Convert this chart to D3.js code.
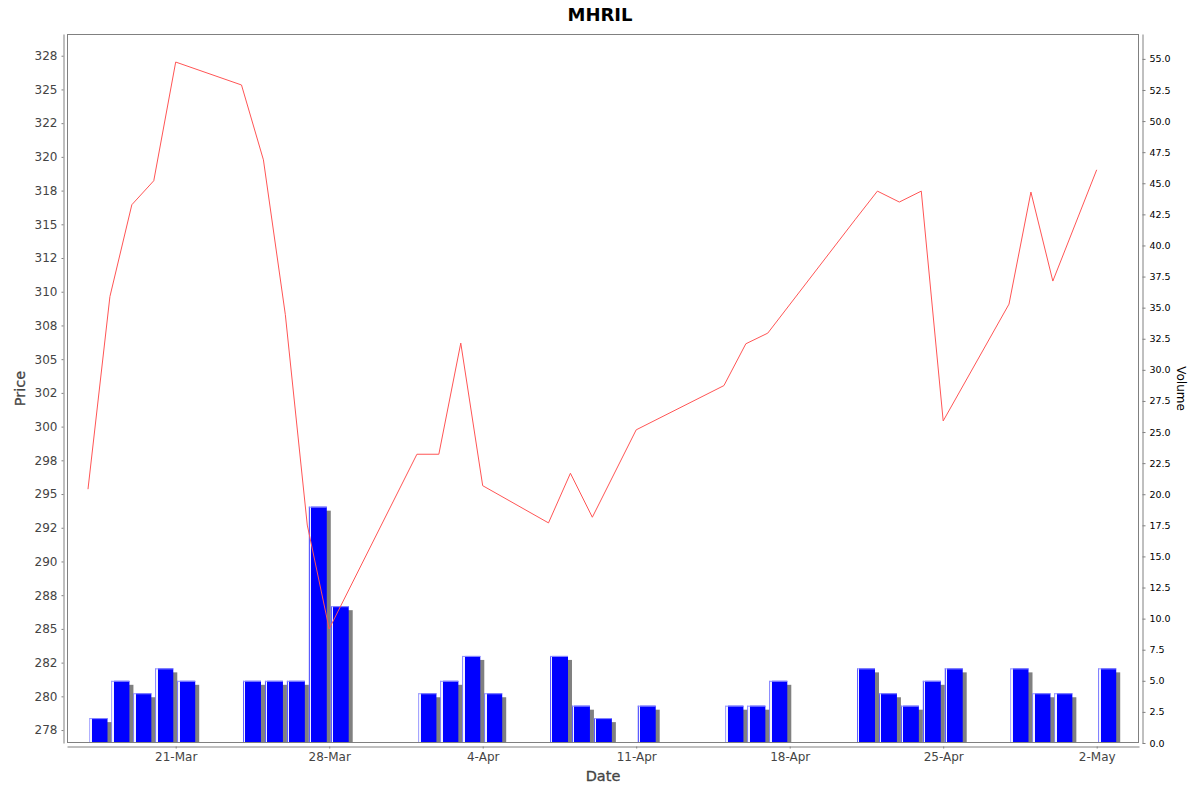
<!DOCTYPE html>
<html>
<head>
<meta charset="utf-8">
<script src="https://cdn.jsdelivr.net/npm/d3@7"></script>
<style>
  body { margin: 0; background: #fff; }
  text { font-family: "DejaVu Sans", sans-serif; }
</style>
</head>
<body>
<div id="chart"></div>
<script>
// trading days shown on the chart (2025)
var dates = ["2025-03-17", "2025-03-18", "2025-03-19", "2025-03-20", "2025-03-21",
             "2025-03-24", "2025-03-25", "2025-03-26", "2025-03-27", "2025-03-28",
             "2025-04-01", "2025-04-02", "2025-04-03", "2025-04-04",
             "2025-04-07", "2025-04-08", "2025-04-09", "2025-04-11",
             "2025-04-15", "2025-04-16", "2025-04-17",
             "2025-04-21", "2025-04-22", "2025-04-23", "2025-04-24", "2025-04-25",
             "2025-04-28", "2025-04-29", "2025-04-30", "2025-05-02"];

// closing price
var prices = [295.36, 309.64, 316.45, 318.23, 327.03,
              325.33, 319.78, 308.3, 292.7, 285.0,
              297.95, 297.95, 306.19, 295.62,
              292.86, 296.54, 293.28, 299.76,
              303.04, 306.14, 306.93,
              315.38, 317.46, 316.65, 317.46, 300.42,
              309.08, 317.39, 310.79, 319.04];

// volume
var volumes = [2, 5, 4, 6, 5,
               5, 5, 5, 19, 11,
               4, 5, 7, 4,
               7, 3, 2, 3,
               3, 3, 5,
               6, 4, 3, 5, 6,
               6, 4, 4, 6];

var priceTicks = [277.5, 280, 282.5, 285, 287.5, 290, 292.5, 295, 297.5, 300, 302.5,
                  305, 307.5, 310, 312.5, 315, 317.5, 320, 322.5, 325, 327.5];
var priceTickLabels = ["278", "280", "282", "285", "288", "290", "292", "295", "298", "300", "302",
                       "305", "308", "310", "312", "315", "318", "320", "322", "325", "328"];
var volumeTicks = [0, 2.5, 5, 7.5, 10, 12.5, 15, 17.5, 20, 22.5, 25, 27.5,
                   30, 32.5, 35, 37.5, 40, 42.5, 45, 47.5, 50, 52.5, 55];
var dateTicks = ["2025-03-21", "2025-03-28", "2025-04-04", "2025-04-11",
                 "2025-04-18", "2025-04-25", "2025-05-02"];

var W = 1200, H = 792;
var plot = { left: 67, right: 1139, top: 34, bottom: 743 };
var parse = d3.utcParse("%Y-%m-%d");
var DAY = 864e5;

var data = dates.map(function(d, i) {
    return { date: parse(d), price: prices[i], volume: volumes[i] };
});

var svg = d3.select("#chart").append("svg")
    .attr("width", W)
    .attr("height", H);

var defs = svg.append("defs");
defs.append("clipPath").attr("id", "plotClip")
    .append("rect")
    .attr("x", plot.left).attr("y", plot.top)
    .attr("width", plot.right - plot.left)
    .attr("height", plot.bottom - plot.top);

var grad = defs.append("linearGradient").attr("id", "barGrad")
    .attr("x1", 0).attr("x2", 1).attr("y1", 0).attr("y2", 0);
[[0, "#5c5cff"], [0.05, "#5c5cff"], [0.05, "#f2f2ff"], [0.13, "#f2f2ff"],
 [0.13, "#0000ff"], [1, "#0000ff"]].forEach(function(s) {
    grad.append("stop").attr("offset", s[0]).attr("stop-color", s[1]);
});

// scales
var x = d3.scaleUtc()
    .domain([new Date(parse("2025-03-21").getTime() - 4.957 * DAY),
             new Date(parse("2025-05-02").getTime() + 1.929 * DAY)])
    .range([plot.left, plot.right]);
var yPrice = d3.scaleLinear().domain([276.54, 329.11]).range([plot.bottom, plot.top]);
var yVol = d3.scaleLinear().domain([0, 57]).range([plot.bottom, plot.top]);

// title
svg.append("text")
    .attr("x", 600).attr("y", 21)
    .attr("text-anchor", "middle")
    .style("font-size", "18px")
    .style("font-weight", "bold")
    .text("MHRIL");

var g = svg.append("g").attr("clip-path", "url(#plotClip)");

// volume bars
function barX(d) {
    var x0 = x(d.date), x1 = x(new Date(d.date.getTime() + DAY));
    return x0 + (x1 - x0) * 0.07;
}
function barW(d) {
    return (x(new Date(d.date.getTime() + DAY)) - x(d.date)) * 0.82;
}

g.selectAll(".shadow")
    .data(data)
    .enter()
    .append("rect")
    .attr("class", "shadow")
    .attr("x", function(d) { return barX(d) + 4; })
    .attr("y", function(d) { return yVol(d.volume) + 4; })
    .attr("width", barW)
    .attr("height", function(d) { return yVol(0) - yVol(d.volume); })
    .style("fill", "#808080");

g.selectAll(".bar")
    .data(data)
    .enter()
    .append("rect")
    .attr("class", "bar")
    .attr("x", barX)
    .attr("y", function(d) { return yVol(d.volume); })
    .attr("width", barW)
    .attr("height", function(d) { return yVol(0) - yVol(d.volume); })
    .style("fill", "url(#barGrad)");

g.selectAll(".barTop")
    .data(data)
    .enter()
    .append("rect")
    .attr("class", "barTop")
    .attr("x", barX)
    .attr("y", function(d) { return yVol(d.volume); })
    .attr("width", barW)
    .attr("height", 1)
    .style("fill", "#8f8fff");

// price line
g.append("path")
    .datum(data)
    .attr("d", d3.line()
        .x(function(d) { return x(d.date); })
        .y(function(d) { return yPrice(d.price); }))
    .style("fill", "none")
    .style("stroke", "#ff5555")
    .style("stroke-width", 1);

// plot outline
svg.append("rect")
    .attr("x", plot.left + 0.5).attr("y", plot.top + 0.5)
    .attr("width", plot.right - plot.left - 1)
    .attr("height", plot.bottom - plot.top - 1)
    .style("fill", "none")
    .style("stroke", "#808080");

// left axis (price)
var leftAxis = svg.append("g")
    .attr("transform", "translate(63.5,0)")
    .call(d3.axisLeft(yPrice)
        .tickValues(priceTicks)
        .tickFormat(function(d, i) { return priceTickLabels[i]; })
        .tickSize(2).tickSizeOuter(0).tickPadding(4));
leftAxis.selectAll("text").style("font-size", "12px").style("fill", "#444")
    .style("font-family", "DejaVu Sans, sans-serif");

// right axis (volume)
var rightAxis = svg.append("g")
    .attr("transform", "translate(1142.5,0)")
    .call(d3.axisRight(yVol)
        .tickValues(volumeTicks)
        .tickFormat(d3.format(".1f"))
        .tickSize(3).tickSizeOuter(0).tickPadding(4));
rightAxis.selectAll("text").style("font-size", "9.5px").style("fill", "#000")
    .style("font-family", "DejaVu Sans, sans-serif");

// bottom axis (date)
var bottomAxis = svg.append("g")
    .attr("transform", "translate(0,746.5)")
    .call(d3.axisBottom(x)
        .tickValues(dateTicks.map(parse))
        .tickFormat(d3.utcFormat("%-d-%b"))
        .tickSize(2).tickSizeOuter(0).tickPadding(4));
bottomAxis.selectAll("text").style("font-size", "12px").style("fill", "#444")
    .style("font-family", "DejaVu Sans, sans-serif");

[leftAxis, rightAxis, bottomAxis].forEach(function(a) {
    a.select(".domain").style("stroke", "#808080");
    a.selectAll(".tick line").style("stroke", "#808080");
});

// axis labels
svg.append("text")
    .attr("transform", "translate(20," + ((plot.top + plot.bottom) / 2) + ") rotate(-90)")
    .attr("text-anchor", "middle")
    .attr("dominant-baseline", "central")
    .style("font-size", "14.5px")
    .style("fill", "#444")
    .style("stroke", "#444")
    .style("stroke-width", 0.3)
    .text("Price");

svg.append("text")
    .attr("x", (plot.left + plot.right) / 2)
    .attr("y", 776)
    .attr("text-anchor", "middle")
    .attr("dominant-baseline", "central")
    .style("font-size", "14.5px")
    .style("fill", "#444")
    .style("stroke", "#444")
    .style("stroke-width", 0.3)
    .text("Date");

svg.append("text")
    .attr("transform", "translate(1181," + ((plot.top + plot.bottom) / 2) + ") rotate(90)")
    .attr("text-anchor", "middle")
    .attr("dominant-baseline", "central")
    .style("font-size", "12px")
    .style("fill", "#000")
    .text("Volume");
</script>
</body>
</html>
